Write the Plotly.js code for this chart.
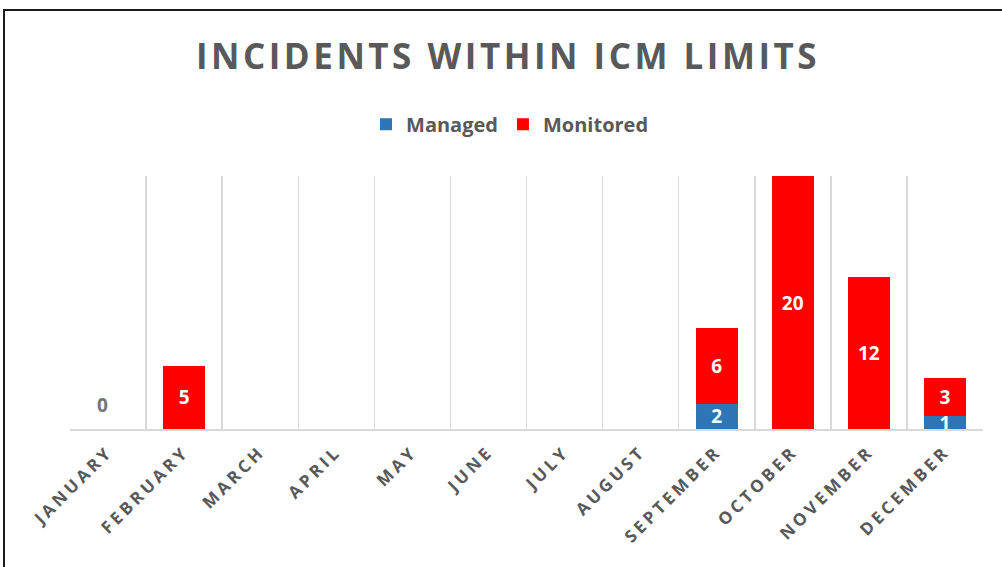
<!DOCTYPE html>
<html>
<head>
<meta charset="utf-8">
<script src="https://cdn.plot.ly/plotly-3.0.1.min.js"></script>
<style>
  html, body { margin: 0; padding: 0; background: #fff; }
  #wrap { position: relative; width: 1002px; height: 567px; overflow: hidden; }
  #chart { width: 1002px; height: 567px; }
  #frame { position: absolute; left: 3px; top: 9px; width: 1010px; height: 600px; border: 2px solid #1a1a1a; box-sizing: border-box; pointer-events: none; }
  .gtitle { letter-spacing: 3.5px; }
  .xtick text { letter-spacing: 3.5px; }
</style>
</head>
<body>
<div id="wrap">
  <div id="chart"></div>
  <div id="frame"></div>
</div>
<script>
const months = ["JANUARY","FEBRUARY","MARCH","APRIL","MAY","JUNE","JULY","AUGUST","SEPTEMBER","OCTOBER","NOVEMBER","DECEMBER"];
const managed = [null, null, null, null, null, null, null, null, 2, null, null, 1];
const monitored = [null, 5, null, null, null, null, null, null, 6, 20, 12, 3];
const zeroLabelMonth = "JANUARY";
const zeroLabelText = "0";

const labelFont = {family: "Open Sans", size: 19, color: "#ffffff", weight: "bold"};

const traces = [
  {
    type: "bar", name: "Managed", x: months, y: managed,
    marker: {color: "#2E75B6"},
    text: managed.map(v => v == null ? "" : String(v)),
    textposition: "inside", insidetextanchor: "middle", textangle: 0, constraintext: "none",
    textfont: labelFont, cliponaxis: false, hoverinfo: "skip"
  },
  {
    type: "bar", name: "Monitored", x: months, y: monitored,
    marker: {color: "#FF0000"},
    text: monitored.map(v => v == null ? "" : String(v)),
    textposition: "inside", insidetextanchor: "middle", textangle: 0, constraintext: "none",
    textfont: labelFont, cliponaxis: false, hoverinfo: "skip"
  }
];

const layout = {
  width: 1002, height: 567,
  margin: {l: 70, r: 19, t: 176, b: 138},
  paper_bgcolor: "#ffffff", plot_bgcolor: "#ffffff",
  barmode: "stack", bargap: 0.45,
  showlegend: true,
  title: {
    text: "INCIDENTS WITHIN ICM LIMITS",
    font: {family: "Open Sans", size: 35, color: "#595959", weight: "bold"},
    xref: "container", x: 0.507, xanchor: "center",
    yref: "container", y: 0.9, yanchor: "middle"
  },
  legend: {
    orientation: "h", xref: "container", x: 0.509, xanchor: "center",
    yref: "container", y: 0.781, yanchor: "middle",
    font: {family: "Open Sans", size: 20, color: "#595959", weight: "bold"},
    itemwidth: 30, traceorder: "normal"
  },
  xaxis: {
    type: "category", tickson: "boundaries",
    showgrid: true, gridcolor: "#d9d9d9", gridwidth: 1.5,
    showline: true, linecolor: "#d9d9d9", linewidth: 2,
    ticks: "", tickangle: -45, ticklabelstandoff: 4,
    tickfont: {family: "Open Sans", size: 17, color: "#595959", weight: "bold"},
    fixedrange: true
  },
  yaxis: {
    range: [0, 20], showgrid: false, zeroline: false, showline: false,
    showticklabels: false, ticks: "", fixedrange: true
  },
  annotations: [
    {
      x: zeroLabelMonth, y: 0, xref: "x", yref: "y",
      text: zeroLabelText, showarrow: false, yanchor: "bottom", yshift: 9, xshift: -6,
      font: {family: "Open Sans", size: 19, color: "#757575", weight: "bold"}
    }
  ]
};

Plotly.newPlot("chart", traces, layout, {displayModeBar: false, staticPlot: true});
</script>
</body>
</html>
